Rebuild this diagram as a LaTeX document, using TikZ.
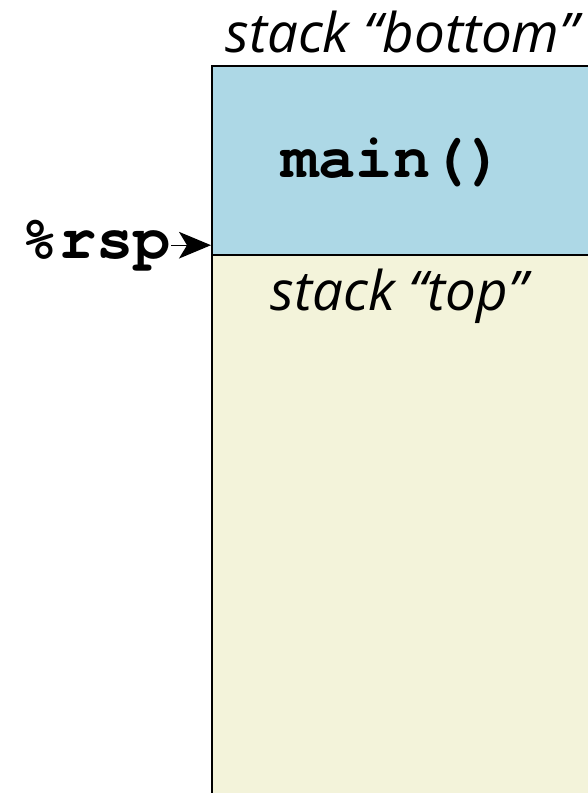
\documentclass[tikz,border=0pt]{standalone}
\usepackage{fontspec}
\setmainfont{Open Sans}
\setmonofont{TeX Gyre Cursor}
\usetikzlibrary{positioning, arrows.meta}
\definecolor{framebg}{RGB}{173,216,230}
\definecolor{stackbg}{RGB}{243,243,218}
\tikzset{
  stacklabel/.style={font=\itshape\fontsize{41}{44}\selectfont, inner sep=0pt},
  codelabel/.style={font=\ttfamily\bfseries\fontsize{46.5}{50}\selectfont, inner sep=0pt},
  framebox/.style={rectangle, draw=black, line width=1.6pt, anchor=north west, minimum width=320pt, inner sep=0pt},
  pointer/.style={-{Stealth[length=24pt, width=20pt, inset=6pt]}, line width=1pt}
}
\begin{document}
\begin{tikzpicture}[x=0.75pt, y=-0.75pt]
    % lienzo en pixeles (588 x 793)
    \useasboundingbox (0,0) rectangle (588,793);
    \clip (0,0) rectangle (588,793);

    % Marco de main() y resto de la pila
    \node[framebox, fill=stackbg, minimum height=420pt] (rest) at (211,254) {};
    \node[framebox, fill=framebg, minimum height=141.75pt] (mainframe) at (211,65) {};

    % Etiquetas
    \node[stacklabel, anchor=base] (bottomlbl) at (402,52) {stack “bottom”};
    \node[codelabel, anchor=base] (mainlbl) at (393,177) {main()};
    \node[stacklabel, anchor=base] (toplbl) at (399,310) {stack “top”};

    % Puntero de pila
    \node[codelabel, anchor=base east] (rsp) at (171,258) {\%rsp};
    \draw[pointer] (rsp.east) -- (rsp.east -| rest.north west);
\end{tikzpicture}
\end{document}
